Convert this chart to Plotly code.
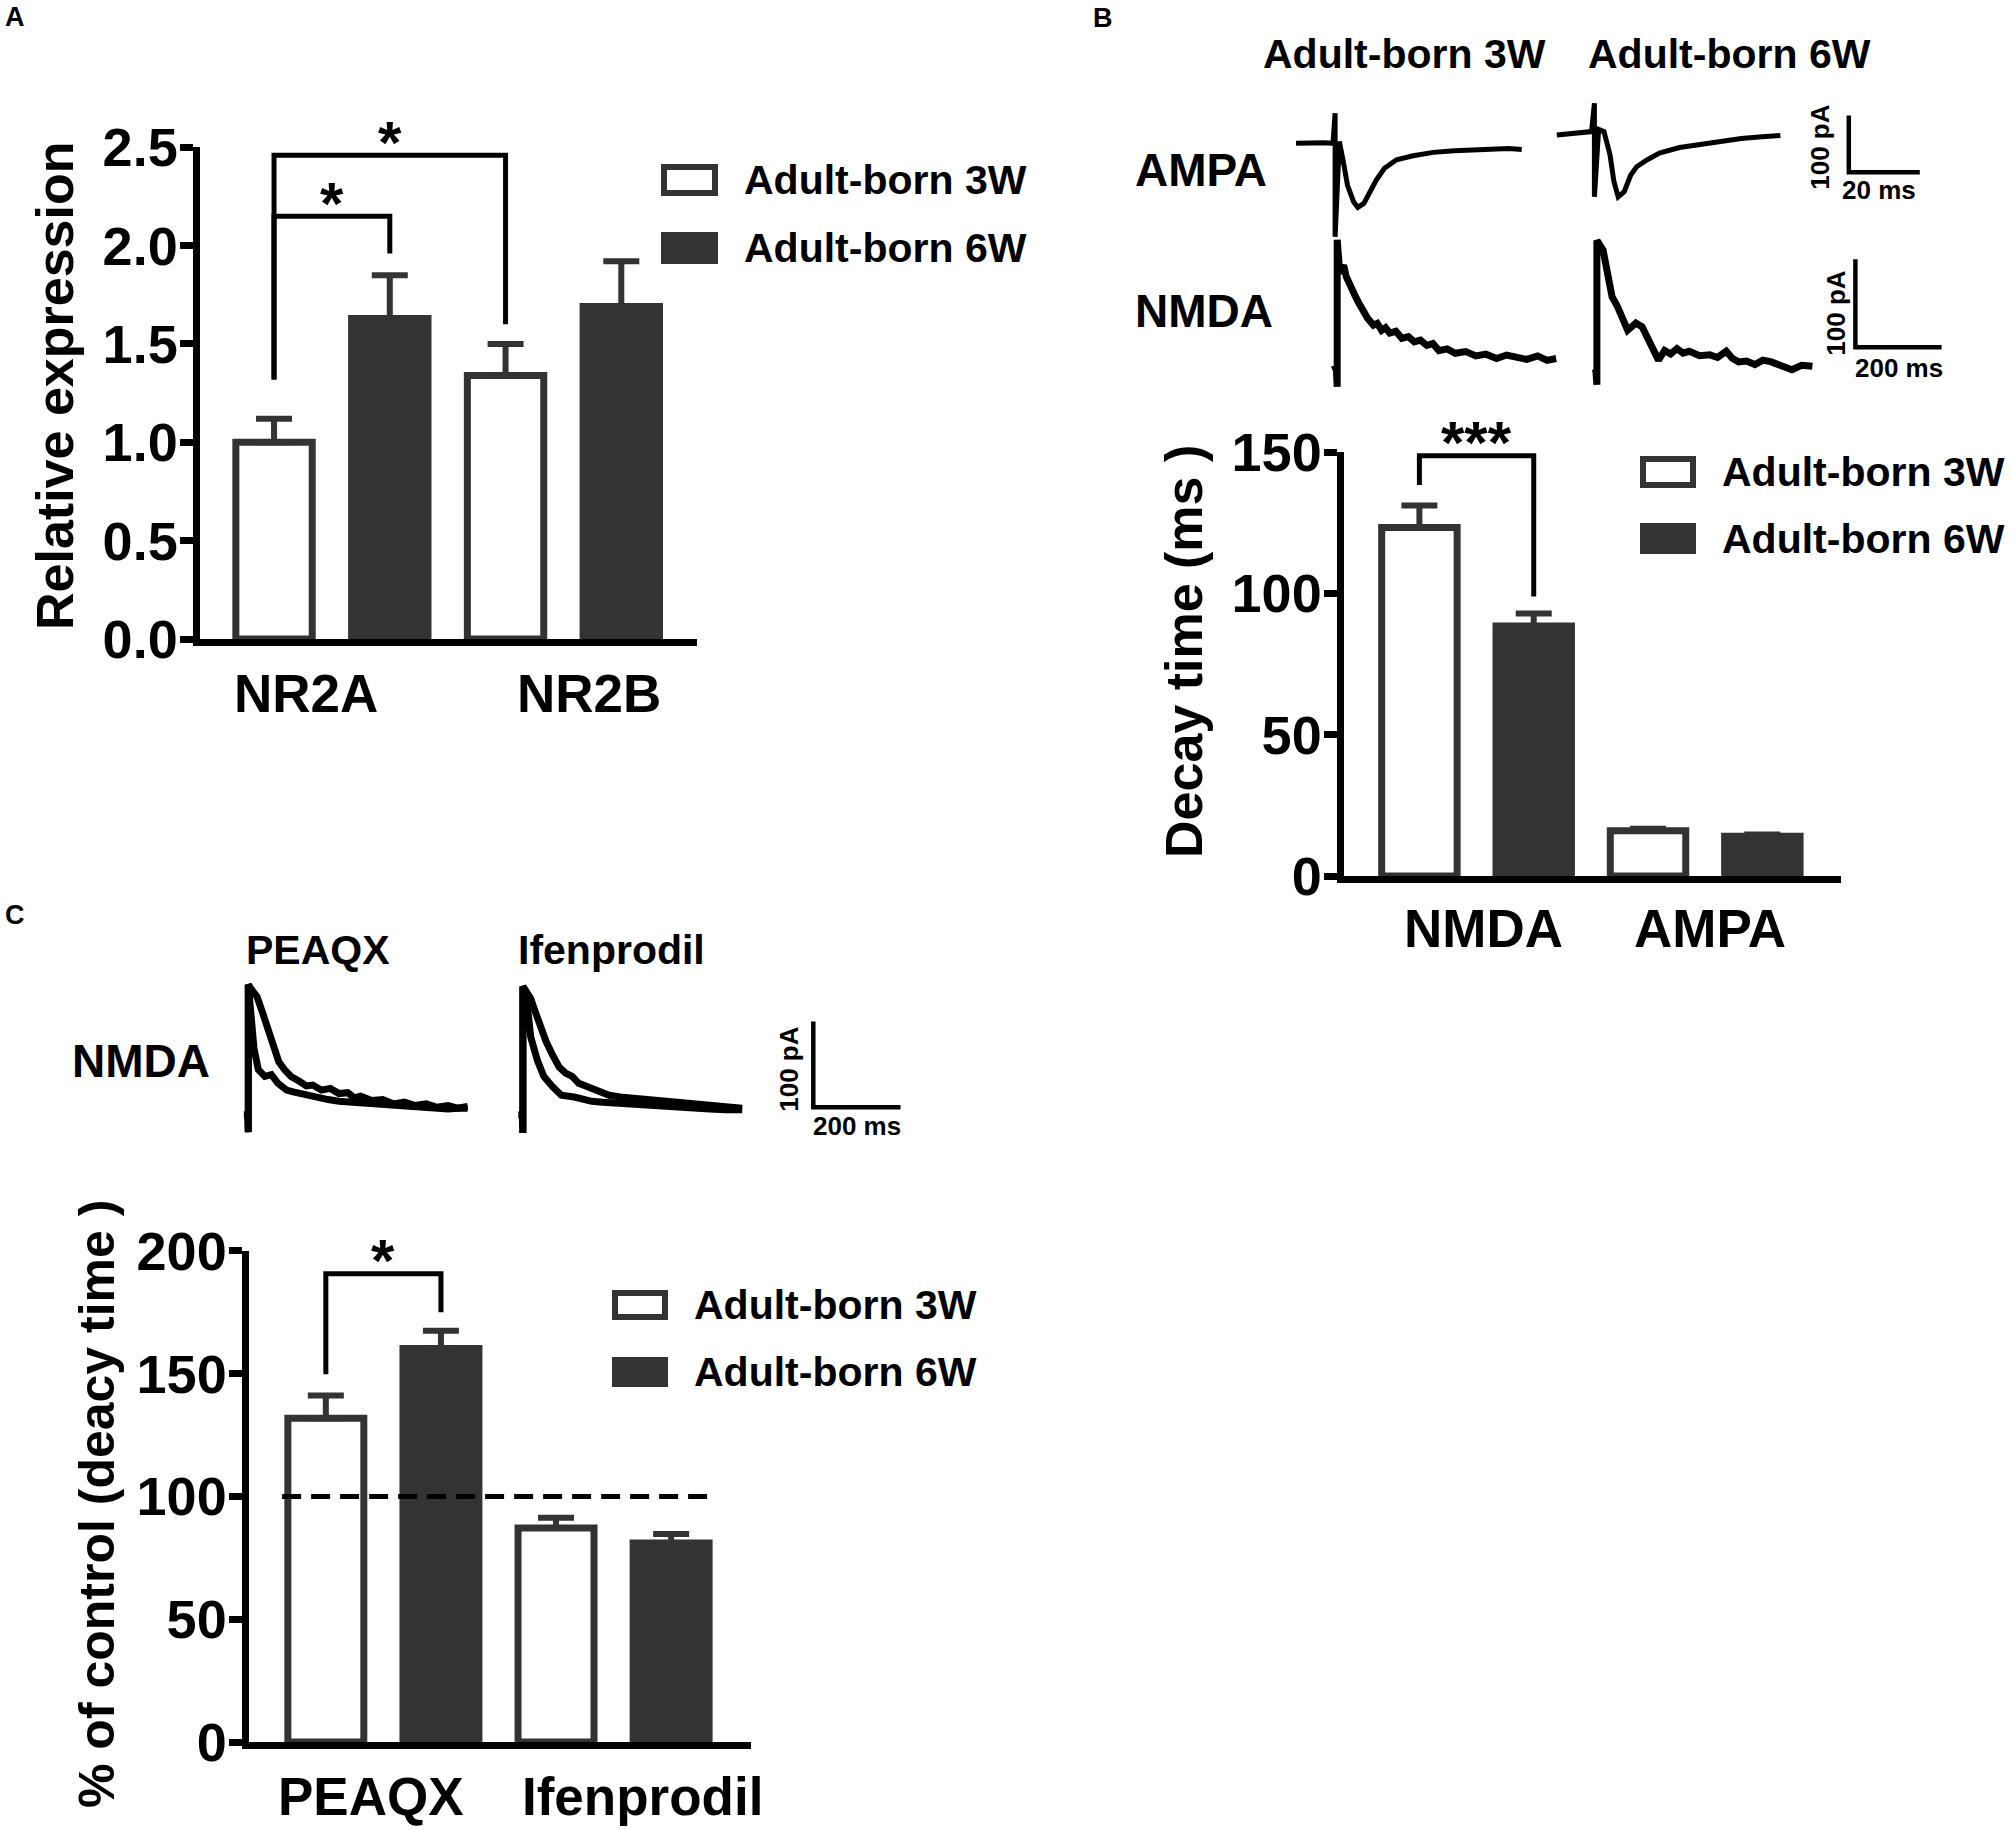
import plotly.graph_objects as go

W, H = 2011, 1830
INK = '#333333'
FAM = 'Liberation Sans, Arial, Helvetica, sans-serif'

series = ['Adult-born 3W', 'Adult-born 6W']

# ---- A: relative expression
a_groups = ['NR2A', 'NR2B']
a_3w = [1.00, 1.34]
a_3w_err = [0.12, 0.16]
a_6w = [1.63, 1.69]
a_6w_err = [0.22, 0.23]
a_ticks = [0.0, 0.5, 1.0, 1.5, 2.0, 2.5]
# (group, series) of left leg, (group, series) of right leg, top, left foot, right foot, mark
a_sig = [((0, 0), (1, 0), 2.46, 1.32, 1.60, '*'),
         ((0, 0), (0, 1), 2.15, 1.32, 1.96, '*')]

# ---- B: decay time
b_groups = ['NMDA', 'AMPA']
b_3w = [123.3, 16.0]
b_3w_err = [7.8, 0.7]
b_6w = [88.4, 14.1]
b_6w_err = [4.5, 0.6]
b_ticks = [0, 50, 100, 150]
b_sig = [((0, 0), (0, 1), 148.7, 138.3, 98.9, '***')]

# ---- C: % of control
c_groups = ['PEAQX', 'Ifenprodil']
c_3w = [131.8, 87.1]
c_3w_err = [9.3, 4.2]
c_6w = [160.2, 81.0]
c_6w_err = [7.2, 3.7]
c_ticks = [0, 50, 100, 150, 200]
c_control = 100
c_sig = [((0, 0), (0, 1), 190.7, 149.7, 175.0, '*')]

# ---- example currents, time in ms, current in pA, stimulus at t = 0
ampa_3w_t = [-11.0, -8.5, -5.8, -3.2, -0.6, 0.0, 0.0, 0.9, 1.2, 2.3, 3.5, 5.2, 6.4, 8.1, 9.8, 11.6,
             13.9, 17.3, 22.0, 27.7, 33.5, 39.3, 45.1, 49.0, 52.6]
ampa_3w_i = [0, 1, 0, 1, 0, 53, -165, 3, 3, -32, -74, -103, -113, -106, -85, -65,
             -44, -29, -22, -16, -13, -12, -11, -9, -11]
ampa_6w_t = [-10.6, -7.5, -4.9, -2.5, -0.8, 0.0, 0.0, 1.2, 2.7, 4.4, 5.5, 6.7, 8.4, 10.2, 11.9,
             14.8, 18.3, 24.0, 29.8, 35.6, 41.4, 47.2, 52.4]
ampa_6w_i = [-3, -1, 1, 2, 3, 53, -112, 7, 3, -38, -85, -112, -103, -74, -59,
             -47, -35, -25, -19, -14, -9, -6, -4]

nmda_3w_t = [-11, -2, 0, 0, 6, 15, 21, 27, 34, 41, 48, 55, 62, 70, 77, 84, 93, 103, 112, 122,
             136, 150, 165, 179, 193, 208, 222, 236, 255, 274, 298, 322, 345, 370, 393, 417,
             440, 465, 487, 508]
nmda_3w_i = [0, 2, -19, 148, 110, 119, 106, 98, 93, 85, 78, 70, 66, 59, 56, 51, 53, 45, 48, 42,
             44, 36, 38, 32, 34, 28, 30, 22, 24, 19, 21, 16, 18, 13, 17, 14,
             12, 16, 11, 13]
nmda_6w_t = [-9.5, -2, 0, 0, 14.3, 23.8, 35.2, 47.6, 61.9, 71.4, 81.0, 90.5, 104.8, 119.0, 133.3,
             142.9, 157.1, 171, 185.7, 200, 214.3, 238, 261.9, 280, 300.0, 314, 328.6, 347,
             366.7, 385, 404.8, 430, 452.4, 475, 500.0]
nmda_6w_i = [0, 1, -13, 151, 140, 117, 87, 76, 61, 49, 53, 57, 53, 38, 21,
             15, 26, 22, 28, 23, 25, 20, 21, 18, 25, 17, 13, 14,
             10, 15, 13, 8, 4, 9, 8]

peaqx_slow_t = [-10, -1, 0, 0, 8, 20, 33, 46, 58, 70, 83, 98, 118, 133, 148, 168, 188, 208, 228,
                243, 258, 283, 308, 333, 358, 383, 408, 433, 458, 480, 503]
peaqx_slow_i = [0, 0, -20, 152, 146, 138, 119, 97, 78, 62, 53, 45, 39, 34, 35, 29, 31, 25, 26,
                20, 22, 17, 18, 13, 15, 11, 13, 9, 11, 8, 10]
peaqx_fast_t = [-10, -1, 0, 0, 13, 23, 38, 53, 68, 88, 103, 118, 138, 158, 183, 208, 233, 258,
                283, 308, 333, 358, 383, 408, 433, 458, 480, 503]
peaqx_fast_i = [0, 0, -20, 152, 78, 53, 45, 47, 37, 29, 27, 25, 23, 21, 18, 16, 15, 14,
                13, 12, 11, 10, 10, 9, 8, 7, 8, 8]
ifen_slow_t = [-10, -1, 0, 0, 8, 18, 28, 40, 53, 68, 83, 98, 113, 128, 143, 158, 178, 198, 223,
               248, 278, 308, 338, 368, 398, 428, 465, 503]
ifen_slow_i = [0, 0, -21, 150, 144, 136, 121, 103, 86, 70, 56, 49, 45, 37, 34, 31, 27, 23, 21,
               20, 18, 16, 15, 14, 13, 12, 10, 8]
ifen_fast_t = [-10, -1, 0, 0, 8, 18, 33, 48, 68, 88, 118, 138, 158, 183, 208, 243, 278, 313,
               348, 388, 428, 465, 503]
ifen_fast_i = [0, 0, -21, 150, 138, 91, 64, 45, 33, 23, 21, 18, 16, 15, 14, 13, 12, 11,
               10, 8, 7, 6, 6]

scale_ampa = (20, 100)   # ms, pA
scale_nmda = (200, 100)

OFFSET = 0.25  # bar centre offset inside a group

fig = go.Figure()
axes = {}


def ax(n):
    return '' if n == 1 else str(n)


def bold(size):
    return dict(family=FAM, size=size, color='black', weight='bold')


def note(text, x, y, size, xanchor='center', **kw):
    fig.add_annotation(text=text, x=x / W, y=1 - y / H, xref='paper', yref='paper',
                       xanchor=xanchor, yanchor='middle', showarrow=False, font=bold(size), **kw)


def bar_panel(n, groups, v3, e3, v6, e6, ticks, fmt, box, xrange, sig, shifts, label_dy):
    xa, ya = 'x' + ax(n), 'y' + ax(n)
    xs = list(range(len(groups)))
    for k, (vals, errs) in enumerate([(v3, e3), (v6, e6)]):
        fig.add_trace(go.Bar(
            x=xs, y=vals, xaxis=xa, yaxis=ya, offsetgroup=str(k), name=series[k],
            marker=dict(color=['white', INK][k], line=dict(color=INK, width=7)),
            error_y=dict(type='data', symmetric=False, array=errs, arrayminus=[0] * len(xs),
                         color=INK, thickness=6, width=18),
            hoverinfo='skip'))
    for (g1, s1), (g2, s2), top, foot1, foot2, mark in sig:
        x1 = g1 + (2 * s1 - 1) * OFFSET
        x2 = g2 + (2 * s2 - 1) * OFFSET
        fig.add_trace(go.Scatter(x=[x1, x1, x2, x2], y=[foot1, top, top, foot2], mode='lines',
                                 line=dict(color='black', width=5), xaxis=xa, yaxis=ya,
                                 hoverinfo='skip'))
        fig.add_annotation(x=(x1 + x2) / 2, y=top, xref=xa, yref=ya, text=mark, showarrow=False,
                           font=bold(60), xanchor='center', yanchor='middle', yshift=13)
    for i, g in enumerate(groups):
        fig.add_annotation(x=i, y=0, xref=xa, yref=ya, text=g, showarrow=False, font=bold(53),
                           xanchor='center', yanchor='middle', xshift=shifts[i], yshift=-label_dy)
    left, top_px, right, bottom_px = box
    axes['xaxis' + ax(n)] = dict(domain=[left / W, right / W], range=xrange, anchor=ya,
                                 showline=True, linewidth=7, linecolor='black', ticks='',
                                 showticklabels=False, showgrid=False, zeroline=False)
    axes['yaxis' + ax(n)] = dict(domain=[1 - bottom_px / H, 1 - top_px / H],
                                 range=[ticks[0], ticks[-1]], tickvals=ticks, tickformat=fmt,
                                 anchor=xa, showline=True, linewidth=7, linecolor='black',
                                 ticks='outside', ticklen=13, tickwidth=7, tickcolor='black',
                                 tickfont=bold(54), ticklabelstandoff=-9,
                                 showgrid=False, zeroline=False)


def trace_panel(n, x0, y0, sx, sy, trange, irange, curves, width):
    xa, ya = 'x' + ax(n), 'y' + ax(n)
    axes['xaxis' + ax(n)] = dict(domain=[(x0 + trange[0] * sx) / W, (x0 + trange[1] * sx) / W],
                                 range=trange, visible=False, anchor=ya)
    axes['yaxis' + ax(n)] = dict(domain=[1 - (y0 - irange[0] * sy) / H, 1 - (y0 - irange[1] * sy) / H],
                                 range=irange, visible=False, anchor=xa)
    for t, i in curves:
        fig.add_trace(go.Scatter(x=t, y=i, mode='lines', xaxis=xa, yaxis=ya,
                                 line=dict(color='black', width=width), hoverinfo='skip'))


def scale_bar(n, x0, y0, sx, sy, scale, pa_shift, ms_shift):
    ms, pa = scale
    trace_panel(n, x0, y0, sx, sy, [-0.05 * ms, 1.1 * ms], [-0.05 * pa, 1.05 * pa],
                [([0, 0, ms], [pa, 0, 0])], 4.5)
    xa, ya = 'x' + ax(n), 'y' + ax(n)
    fig.add_annotation(x=0, y=pa / 2, xref=xa, yref=ya, text='%d pA' % pa, textangle=-90,
                       showarrow=False, font=bold(26), xanchor='center', yanchor='middle',
                       xshift=pa_shift[0], yshift=pa_shift[1])
    fig.add_annotation(x=ms / 2, y=0, xref=xa, yref=ya, text='%d ms' % ms, showarrow=False,
                       font=bold(26), xanchor='center', yanchor='middle',
                       xshift=ms_shift[0], yshift=ms_shift[1])


def legend(left, right, rows, text_x):
    for k, (t, b) in enumerate(rows):
        fig.add_shape(type='rect', xref='paper', yref='paper',
                      x0=(left + 3) / W, x1=(right - 3) / W, y0=1 - (b - 3) / H, y1=1 - (t + 3) / H,
                      fillcolor=['white', INK][k], line=dict(color=INK, width=6))
        note(series[k], text_x, (t + b) / 2, 41, xanchor='left')


# bar charts
bar_panel(1, a_groups, a_3w, a_3w_err, a_6w, a_6w_err, a_ticks, '.1f',
          (199.5, 147.3, 697, 639), [-0.572, 1.577], a_sig, [-26, 26], 54)
bar_panel(2, b_groups, b_3w, b_3w_err, b_6w, b_6w_err, b_ticks, 'd',
          (1343.5, 452, 1841, 876), [-0.582, 1.594], b_sig, [7, 5], 52)
bar_panel(3, c_groups, c_3w, c_3w_err, c_6w, c_6w_err, c_ticks, 'd',
          (248.5, 1250.8, 751, 1742), [-0.586, 1.597], c_sig, [-12, 29], 54)

fig.add_shape(type='line', xref='x3', yref='y3', x0=-OFFSET - 0.19, x1=1 + OFFSET + 0.18,
              y0=c_control, y1=c_control, line=dict(color='black', width=5, dash='19px,10px'))

# example traces
trace_panel(4, 1335.1, 143.3, 3.549, 0.567, [-14, 56], [-175, 62], [(ampa_3w_t, ampa_3w_i)], 5)
trace_panel(5, 1594.4, 133.3, 3.549, 0.567, [-14, 56], [-175, 62], [(ampa_6w_t, ampa_6w_i)], 5)
scale_bar(6, 1848.8, 172.3, 3.549, 0.567, scale_ampa, (-29, -3), (-5, -18))
trace_panel(7, 1337.2, 370.0, 0.431, 0.88, [-15, 515], [-25, 158], [(nmda_3w_t, nmda_3w_i)], 7)
trace_panel(8, 1596.9, 373.3, 0.431, 0.88, [-15, 515], [-25, 158], [(nmda_6w_t, nmda_6w_i)], 7)
scale_bar(9, 1855.4, 347.3, 0.431, 0.88, scale_nmda, (-19, -10), (0, -21))
trace_panel(10, 248.3, 1115, 0.436, 0.857, [-14, 510], [-26, 158],
            [(peaqx_slow_t, peaqx_slow_i), (peaqx_fast_t, peaqx_fast_i)], 7)
trace_panel(11, 522.9, 1115, 0.436, 0.857, [-14, 510], [-26, 158],
            [(ifen_slow_t, ifen_slow_i), (ifen_fast_t, ifen_fast_i)], 7)
scale_bar(12, 813.3, 1107.3, 0.436, 0.857, scale_nmda, (-24, -5), (0, -19))

# legends
legend(661, 718, [(164, 196), (232, 264)], 742)
legend(1640, 1696, [(456, 488), (523, 554)], 1720)
legend(612, 668, [(1290, 1320), (1357, 1387)], 692)

# axis titles
note('Relative expression', 55, 386, 52, textangle=-90)
note('Decay time (ms )', 1184, 652, 52, textangle=-90)
note('% of control (deacy time )', 97, 1504, 50, textangle=-90)

# panel letters and trace labels
note('A', 15, 17, 27)
note('B', 1103, 18, 27)
note('C', 15, 915, 27)
note('Adult-born 3W', 1404, 54, 41)
note('Adult-born 6W', 1729, 54, 41)
note('AMPA', 1133, 170, 46, xanchor='left')
note('NMDA', 1133, 311, 46, xanchor='left')
note('PEAQX', 318, 950, 41)
note('Ifenprodil', 611, 950, 41)
note('NMDA', 70, 1061, 46, xanchor='left')

fig.update_layout(width=W, height=H, margin=dict(l=0, r=0, t=0, b=0), template='none',
                  paper_bgcolor='white', plot_bgcolor='rgba(0,0,0,0)', showlegend=False,
                  barmode='group', bargap=0, bargroupgap=0.34, font=bold(40), **axes)

fig.write_html("out.html", config={'displayModeBar': False},
               post_script="document.body.style.margin='0px';document.body.style.overflow='hidden';")
